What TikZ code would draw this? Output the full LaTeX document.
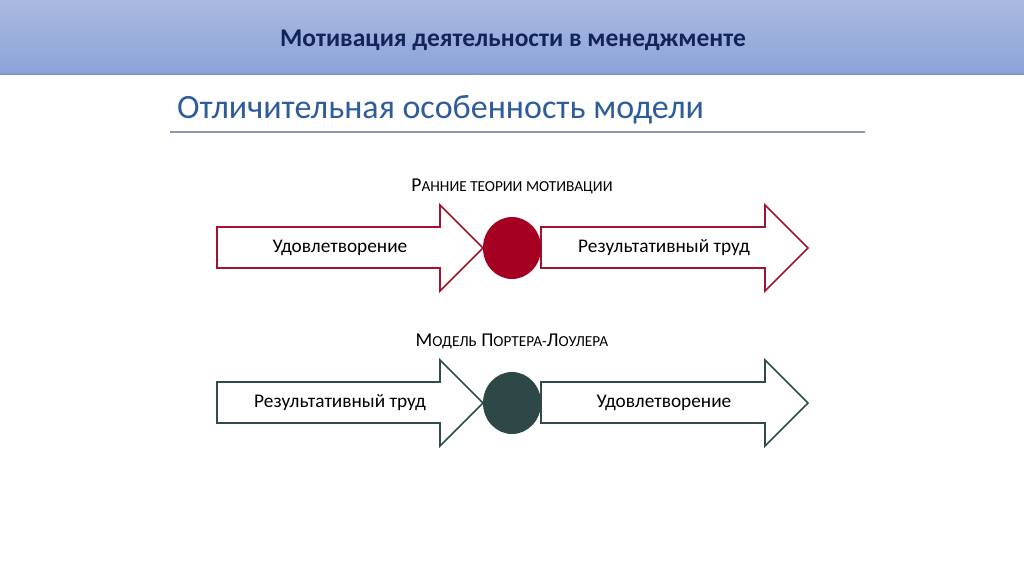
\documentclass[tikz,border=0pt]{standalone}
\usepackage{fontspec}
\setmainfont{Carlito}
\usetikzlibrary{calc,shapes.geometric}
\definecolor{hdtop}{HTML}{AABAE2}
\definecolor{hdbot}{HTML}{8CA3D8}
\definecolor{hdline}{HTML}{7D97CF}
\definecolor{navy}{HTML}{14245A}
\definecolor{subblue}{HTML}{2F5C9A}
\definecolor{rulegray}{HTML}{8C99AD}
\definecolor{redline}{HTML}{A3132E}
\definecolor{redfill}{HTML}{A50021}
\definecolor{slateline}{HTML}{2F4B4B}
\definecolor{slatefill}{HTML}{2E4848}
\newcommand{\sm}[1]{{\fontsize{15.3}{18}\selectfont #1}}
\tikzset{
  arrowshape/.style={line width=1.6pt, fill=white, line join=miter},
  arrtext/.style={font=\fontsize{19.3}{23}\selectfont, text=black, inner sep=0pt},
  rowlabel/.style={font=\fontsize{19.6}{23}\selectfont, text=black, inner sep=0pt},
  dot/.style={ellipse, minimum width=58pt, minimum height=62pt, inner sep=0pt, draw=none}
}
\begin{document}
\begin{tikzpicture}[x=1pt,y=-1pt]
\useasboundingbox (0,0) rectangle (1024,574);
\fill[white] (0,0) rectangle (1024,574);
% header
\shade[top color=hdtop, bottom color=hdbot] (0,0) rectangle (1024,74);
\draw[hdline, line width=1.2pt] (0,74) -- (1024,74);
\node[font=\bfseries\fontsize{25.5}{30}\selectfont, text=navy] (title) at (513,40) {Мотивация деятельности в менеджменте};
% subtitle
\node[font=\fontsize{34}{40}\selectfont, text=subblue, anchor=west, inner sep=0pt] (sub) at (177,110) {Отличительная особенность модели};
\coordinate (rl) at (170,132);
\coordinate (rr) at (865,132);
\draw[rulegray, line width=1.5pt] (rl) -- (rr);

% row 1
\node[rowlabel] (lab1) at (512,186) {Р\sm{АННИЕ ТЕОРИИ МОТИВАЦИИ}};
\draw[arrowshape, draw=redline] (217,227) -- (440,227) -- (440,205) -- (483,248) -- (440,291) -- (440,268) -- (217,268) -- cycle;
\draw[arrowshape, draw=redline] (541,227) -- (765,227) -- (765,205) -- (808,248) -- (765,291) -- (765,268) -- (541,268) -- cycle;
\node[dot, fill=redfill] (c1) at (512,248) {};
\node[arrtext] (a1) at (340,248) {Удовлетворение};
\node[arrtext] (b1) at (664,248) {Результативный труд};

% row 2
\node[rowlabel] (lab2) at (512,341) {М\sm{ОДЕЛЬ} П\sm{ОРТЕРА-}Л\sm{ОУЛЕРА}};
\draw[arrowshape, draw=slateline] (217,382) -- (440,382) -- (440,360) -- (483,403) -- (440,446) -- (440,423) -- (217,423) -- cycle;
\draw[arrowshape, draw=slateline] (541,382) -- (765,382) -- (765,360) -- (808,403) -- (765,446) -- (765,423) -- (541,423) -- cycle;
\node[dot, fill=slatefill] (c2) at (512,403) {};
\node[arrtext] (a2) at (340,403) {Результативный труд};
\node[arrtext] (b2) at (664,403) {Удовлетворение};
\end{tikzpicture}
\end{document}
